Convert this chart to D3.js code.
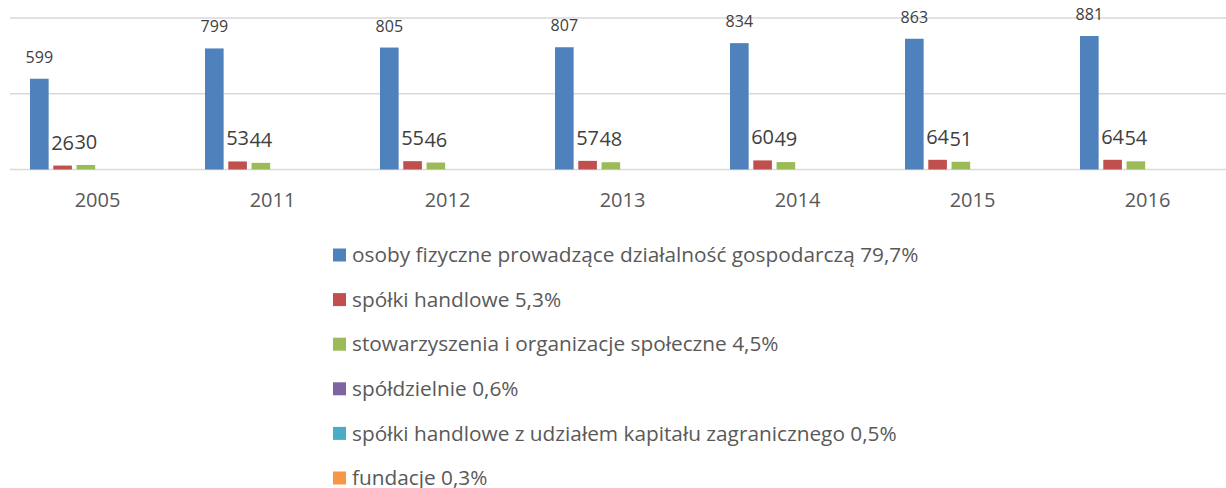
<!DOCTYPE html>
<html>
<head>
<meta charset="utf-8">
<script src="https://cdn.jsdelivr.net/npm/d3@7"></script>
<style>
  body { margin: 0; background: #fff; }
  svg { display: block; font-family: "Open Sans", "Liberation Sans", sans-serif; }
</style>
</head>
<body>
<div id="chart"></div>
<script>
const years = ['2005', '2011', '2012', '2013', '2014', '2015', '2016'];
const seriesNames = [
  'osoby fizyczne prowadzące działalność gospodarczą 79,7%',
  'spółki handlowe 5,3%',
  'stowarzyszenia i organizacje społeczne 4,5%',
  'spółdzielnie 0,6%',
  'spółki handlowe z udziałem kapitału zagranicznego 0,5%',
  'fundacje 0,3%'
];
const osobyFizyczne = [599, 799, 805, 807, 834, 863, 881];
const spolkiHandlowe = [26, 53, 55, 57, 60, 64, 64];
const stowarzyszenia = [30, 44, 46, 48, 49, 51, 54];
const spoldzielnie = [0, 0, 0, 0, 0, 0, 0];
const spolkiZagraniczne = [0, 0, 0, 0, 0, 0, 0];
const fundacje = [0, 0, 0, 0, 0, 0, 0];
const yTicks = [0, 500, 1000];

const colors = ['#4f81bd', '#c0504d', '#9bbb59', '#8064a2', '#4bacc6', '#f79646'];
const allSeries = [osobyFizyczne, spolkiHandlowe, stowarzyszenia, spoldzielnie, spolkiZagraniczne, fundacje];
const labelled = [true, true, true, false, false, false];

const width = 1226, height = 488;
const plotLeft = 10, plotRight = 1235, plotTop = 18, plotBottom = 169.5;

const svg = d3.select('#chart').append('svg')
  .attr('width', width)
  .attr('height', height);

const x = d3.scaleBand()
  .domain(years)
  .range([plotLeft, plotRight]);

const x1 = d3.scaleBand()
  .domain(d3.range(seriesNames.length))
  .range([0, x.bandwidth()])
  .paddingOuter(0.86)
  .paddingInner(0.2);

const y = d3.scaleLinear()
  .domain([0, 1000])
  .range([plotBottom, plotTop]);

// gridlines
svg.append('g')
  .selectAll('line')
  .data(yTicks)
  .join('line')
  .attr('x1', plotLeft)
  .attr('x2', plotRight)
  .attr('y1', d => y(d))
  .attr('y2', d => y(d))
  .attr('stroke', '#d9d9d9')
  .attr('stroke-width', 1.5);

// bars
allSeries.forEach(function (values, s) {
  const g = svg.append('g').attr('fill', colors[s]);
  g.selectAll('rect')
    .data(values)
    .join('rect')
    .attr('x', (d, i) => x(years[i]) + x1(s))
    .attr('width', x1.bandwidth())
    .attr('y', d => y(d))
    .attr('height', d => y(0) - y(d));

  if (labelled[s]) {
    svg.append('g')
      .selectAll('text')
      .data(values)
      .join('text')
      .attr('x', (d, i) => x(years[i]) + x1(s) + x1.bandwidth() / 2)
      .attr('y', d => y(d) - 16)
      .attr('text-anchor', 'middle')
      .attr('fill', '#404040')
      .attr('font-size', s === 0 ? 16 : 20)
      .text(d => d);
  }
});

// category axis
const xAxis = svg.append('g')
  .attr('transform', 'translate(0,' + plotBottom + ')')
  .call(d3.axisBottom(x).tickSize(0).tickPadding(23));
xAxis.select('.domain').remove();
xAxis.selectAll('text')
  .attr('font-size', 20)
  .attr('font-family', '"Open Sans", "Liberation Sans", sans-serif')
  .attr('fill', '#595959');

// legend
const legend = svg.append('g');
const rowH = 44.6;
const item = legend.selectAll('g')
  .data(seriesNames)
  .join('g')
  .attr('transform', (d, i) => 'translate(333,' + (255 + i * rowH) + ')');
item.append('rect')
  .attr('x', 0)
  .attr('y', -6.5)
  .attr('width', 13)
  .attr('height', 13)
  .attr('fill', (d, i) => colors[i]);
item.append('text')
  .attr('x', 19)
  .attr('dy', '0.35em')
  .attr('font-size', 20.8)
  .attr('fill', '#595959')
  .text(d => d);
</script>
</body>
</html>
